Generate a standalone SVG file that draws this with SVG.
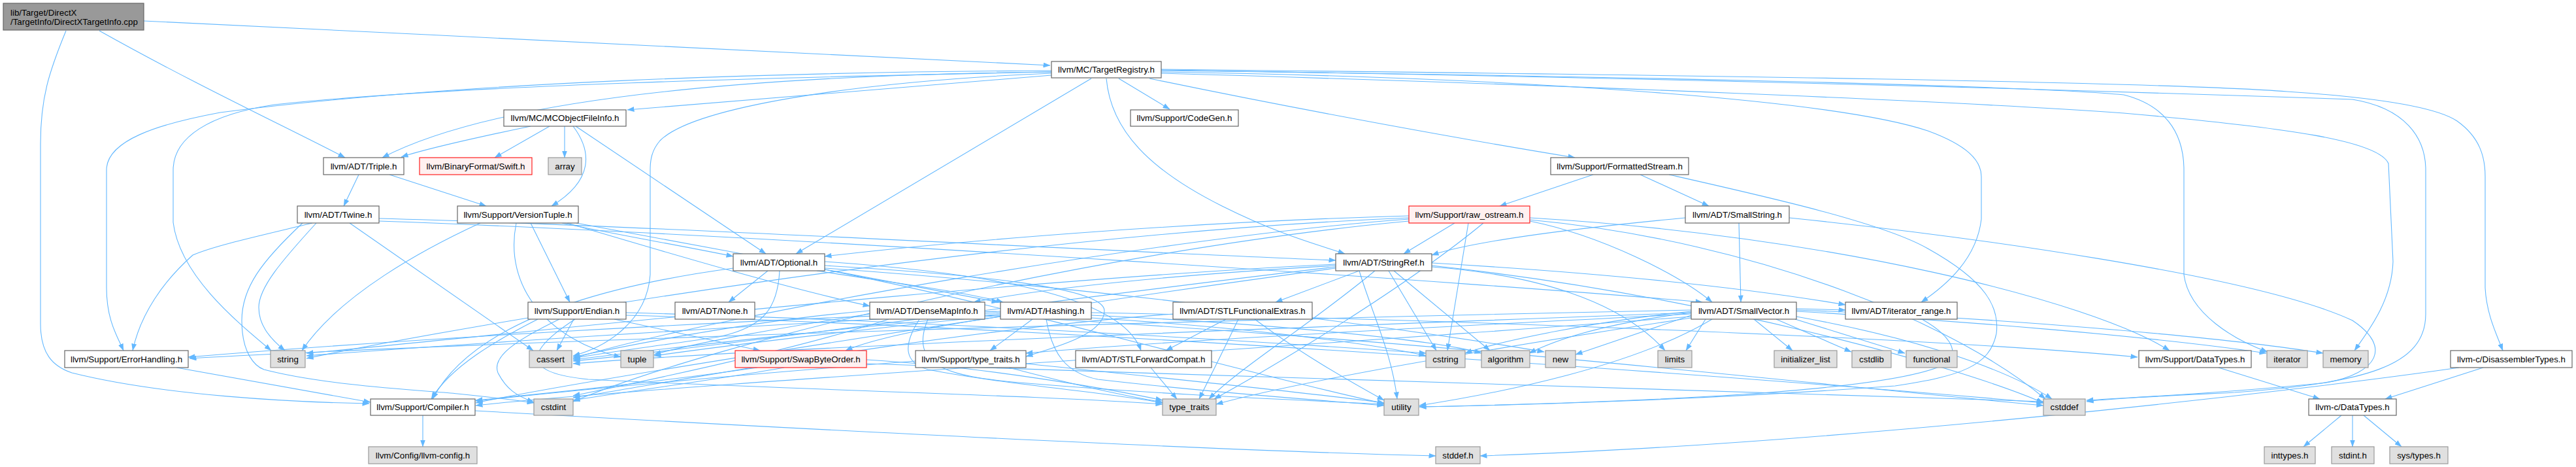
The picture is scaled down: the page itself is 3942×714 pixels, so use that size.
<svg xmlns="http://www.w3.org/2000/svg" width="3942" height="714" viewBox="0 0 3942 714">
<defs>
<marker id="a" markerWidth="11" markerHeight="8" refX="10.5" refY="4" orient="auto" markerUnits="userSpaceOnUse"><path d="M0,0 L11,4 L0,8 z" fill="#63b8ff"/></marker>
<style>
.e{fill:none;stroke:#63b8ff;stroke-width:1.1;marker-end:url(#a)}
.n rect{fill:#ffffff;stroke:#666666;stroke-width:1.2}
.g rect{fill:#e0e0e0;stroke:#999999;stroke-width:1.2}
.r rect{fill:#fff0f0;stroke:#ff2020;stroke-width:1.2}
.rt rect{fill:#999999;stroke:#666666;stroke-width:1.2}
text{font-family:"Liberation Sans",Arial,Helvetica,sans-serif;font-size:13.33px;fill:#000000;text-anchor:middle}
.rt text{text-anchor:start}
</style>
</defs>
<rect width="3942" height="714" fill="#ffffff"/>
<g id="connectors">
<path class="e" d="M220,32 C700,55 1300,85 1607,100"/>
<path class="e" d="M152,47 C300,130 450,200 528,241"/>
<path class="e" d="M101,47 C75,110 62,150 62,220 L62,495 C62,540 80,560 110,570 C250,605 450,615 565,617"/>
<path class="e" d="M1609,115 C1350,135 1100,155 960,168"/>
<path class="e" d="M1712,120 L1790,167"/>
<path class="e" d="M1759,120 C2000,170 2250,215 2410,241"/>
<path class="e" d="M1609,110 C1150,115 760,150 585,241"/>
<path class="e" d="M1609,108 C1200,110 700,125 337,172 C240,190 163,215 163,260 L163,440 C163,490 180,515 189,536"/>
<path class="e" d="M1609,110 C1200,118 700,130 420,160 C320,175 265,210 265,260 L265,340 C275,420 360,490 415,536"/>
<path class="e" d="M1609,112 C1300,125 1060,165 1010,215 C997,230 995,245 995,260 L995,420 C990,490 930,530 877,544"/>
<path class="e" d="M1693,120 C1700,200 1760,260 1870,315 C1960,360 2020,375 2058,388"/>
<path class="e" d="M1670,120 L1218,388"/>
<path class="e" d="M1777,110 C2300,118 2800,150 2950,200 C3010,222 3032,245 3032,270 L3032,335 C3025,395 2980,435 2940,462"/>
<path class="e" d="M1777,108 C2400,115 3100,130 3250,145 C3310,160 3342,200 3342,260 L3342,420 C3350,480 3420,520 3470,538"/>
<path class="e" d="M1777,112 C2400,130 3000,155 3250,173 C3500,195 3640,215 3655,250 L3662,400 C3660,460 3625,505 3603,536"/>
<path class="e" d="M1777,107 C2600,120 3250,140 3600,152 C3680,165 3712,210 3712,260 L3712,480 C3712,560 3620,585 3420,600 C3300,606 3230,609 3193,614"/>
<path class="e" d="M1777,106 C2600,115 3300,125 3500,140 C3650,150 3730,165 3760,185 C3795,210 3803,240 3803,270 L3803,440 C3805,480 3820,510 3830,536"/>
<path class="e" d="M812,193 C740,208 660,225 614,240"/>
<path class="e" d="M841,193 L757,241"/>
<path class="e" d="M864,193 L864,241"/>
<path class="e" d="M877,193 C905,230 910,275 844,315"/>
<path class="e" d="M881,193 L1172,388"/>
<path class="e" d="M549,267 L526,315"/>
<path class="e" d="M596,267 L744,315"/>
<path class="e" d="M478,341 C400,360 330,375 295,390 C250,430 215,480 203,536"/>
<path class="e" d="M484,341 C430,400 396,440 396,470 C396,495 410,515 436,536"/>
<path class="e" d="M463,341 C400,400 370,440 370,490 C370,540 390,560 404,565 C500,590 650,597 700,602 C760,608 790,612 817,616"/>
<path class="e" d="M535,341 L816,536"/>
<path class="e" d="M580,334 C1000,345 1700,385 2044,398"/>
<path class="e" d="M580,338 C1200,360 2300,435 2605,462"/>
<path class="e" d="M812,341 L872,462"/>
<path class="e" d="M860,341 C950,360 1050,377 1122,392"/>
<path class="e" d="M868,341 C1000,380 1200,440 1331,468"/>
<path class="e" d="M882,341 C1100,380 1400,440 1528,462"/>
<path class="e" d="M735,341 C650,380 520,450 462,536"/>
<path class="e" d="M790,341 C770,440 840,520 950,546"/>
<path class="e" d="M1175,414 L1115,462"/>
<path class="e" d="M1250,414 C1350,430 1470,445 1535,462"/>
<path class="e" d="M1262,400 C1550,420 1720,460 1746,536"/>
<path class="e" d="M1122,410 C900,440 720,500 662,610"/>
<path class="e" d="M1262,406 C1500,420 1690,440 1690,475 C1690,510 1620,530 1570,545"/>
<path class="e" d="M1193,414 C1190,470 1170,500 1100,515 C1000,530 930,538 877,548"/>
<path class="e" d="M1262,410 C1700,440 2200,510 2363,538"/>
<path class="e" d="M1262,412 C1600,480 1900,570 2118,617"/>
<path class="e" d="M2044,406 C1800,420 1600,440 1490,462"/>
<path class="e" d="M2080,414 L1952,462"/>
<path class="e" d="M2191,402 C2500,420 2700,445 2824,466"/>
<path class="e" d="M2044,410 C1600,470 900,580 728,616"/>
<path class="e" d="M2133,414 L2280,536"/>
<path class="e" d="M2044,408 C1600,460 1100,530 877,552"/>
<path class="e" d="M2191,406 C2600,450 3000,560 3127,616"/>
<path class="e" d="M2125,414 L2198,536"/>
<path class="e" d="M2191,408 C2350,420 2480,460 2548,536"/>
<path class="e" d="M2044,404 C1500,430 700,520 469,540"/>
<path class="e" d="M2104,414 C2000,500 1900,560 1850,610"/>
<path class="e" d="M2080,414 C2100,480 2130,540 2138,610"/>
<path class="e" d="M2749,472 L2824,474"/>
<path class="e" d="M2684,488 L2743,536"/>
<path class="e" d="M2718,488 L2833,538"/>
<path class="e" d="M2747,488 L2915,540"/>
<path class="e" d="M2749,484 C2950,520 3080,570 3140,610"/>
<path class="e" d="M2749,476 C3000,490 3300,515 3468,540"/>
<path class="e" d="M2749,474 C3050,485 3400,515 3555,540"/>
<path class="e" d="M2610,488 L2580,536"/>
<path class="e" d="M2588,482 L2411,542"/>
<path class="e" d="M2588,478 C2450,495 2380,520 2340,540"/>
<path class="e" d="M2588,476 C2450,490 2300,520 2242,540"/>
<path class="e" d="M2620,488 C2500,560 2300,600 2172,620"/>
<path class="e" d="M2588,486 C2300,530 2000,580 1861,618"/>
<path class="e" d="M2588,480 C2200,500 1800,520 1570,540"/>
<path class="e" d="M2588,474 C1800,490 800,520 290,548"/>
<path class="e" d="M2588,484 C2000,530 1000,590 728,620"/>
<path class="e" d="M2588,478 C2000,500 1200,530 877,556"/>
<path class="e" d="M2226,341 L2148,388"/>
<path class="e" d="M2247,341 L2215,536"/>
<path class="e" d="M2341,338 C2450,360 2570,420 2620,462"/>
<path class="e" d="M2341,333 C2800,360 3200,460 3320,536"/>
<path class="e" d="M2156,335 C1800,360 1100,480 877,548"/>
<path class="e" d="M2341,336 C2700,370 3000,500 3130,610"/>
<path class="e" d="M2156,338 C1700,380 1100,520 877,614"/>
<path class="e" d="M2156,333 C1500,360 700,500 469,548"/>
<path class="e" d="M2270,341 C2150,440 1950,560 1858,610"/>
<path class="e" d="M2156,330 C1800,340 1450,370 1262,392"/>
<path class="e" d="M2438,267 L2295,315"/>
<path class="e" d="M2510,267 L2615,315"/>
<path class="e" d="M2554,267 C2700,300 2880,340 2950,380 C3040,430 3060,470 3055,510 C3045,560 3000,575 2900,590 C2600,612 2300,620 2172,622"/>
<path class="e" d="M2661,341 L2664,462"/>
<path class="e" d="M2579,333 C2400,350 2250,370 2191,390"/>
<path class="e" d="M2738,333 C3000,360 3450,420 3600,490 C3660,530 3640,570 3560,585 C3400,602 3250,608 3193,612"/>
<path class="e" d="M2941,488 C2980,510 3000,535 2980,555 C2900,600 2500,615 2172,622"/>
<path class="e" d="M1331,475 C1150,490 950,530 877,546"/>
<path class="e" d="M1331,480 C1200,500 1060,525 1001,542"/>
<path class="e" d="M1360,488 C1200,540 950,590 877,605"/>
<path class="e" d="M1407,488 C1380,530 1385,555 1420,565 C1550,590 1700,600 1779,616"/>
<path class="e" d="M1420,488 C1390,560 1450,575 1560,585 C1800,605 2000,612 2118,618"/>
<path class="e" d="M1507,482 C2200,520 2800,590 3127,620"/>
<path class="e" d="M1580,488 L1515,536"/>
<path class="e" d="M1601,488 C1610,540 1630,570 1680,580 C1850,600 2000,610 2118,620"/>
<path class="e" d="M1670,478 C2300,490 3000,520 3271,546"/>
<path class="e" d="M1670,482 C1950,495 2200,520 2267,540"/>
<path class="e" d="M1670,486 C1900,500 2100,525 2182,544"/>
<path class="e" d="M1531,484 C1420,500 1330,520 1294,536"/>
<path class="e" d="M1531,476 C1100,490 600,520 288,546"/>
<path class="e" d="M1531,478 C1100,500 650,530 469,544"/>
<path class="e" d="M1531,480 C1300,500 1000,535 877,550"/>
<path class="e" d="M1531,482 C1300,505 1100,530 1001,544"/>
<path class="e" d="M1876,488 L1784,536"/>
<path class="e" d="M1895,488 C1870,540 1850,580 1835,610"/>
<path class="e" d="M1920,488 C1990,540 2060,580 2118,612"/>
<path class="e" d="M1795,480 C1400,510 1000,590 877,608"/>
<path class="e" d="M1761,562 L1801,610"/>
<path class="e" d="M1401,552 C1100,575 850,600 728,613"/>
<path class="e" d="M1544,562 C1650,590 1720,605 1779,615"/>
<path class="e" d="M1570,556 C1800,580 2000,600 2118,616"/>
<path class="e" d="M878,488 L852,536"/>
<path class="e" d="M940,488 L1163,536"/>
<path class="e" d="M856,488 C790,520 752,545 762,570 C775,595 790,605 817,615"/>
<path class="e" d="M823,488 C760,520 690,560 660,610"/>
<path class="e" d="M958,478 C1400,490 1900,520 2182,540"/>
<path class="e" d="M958,482 C1600,500 2600,570 3127,616"/>
<path class="e" d="M880,488 C800,540 800,570 900,580 C1200,595 1600,605 1779,618"/>
<path class="e" d="M1159,562 C1000,585 850,600 728,612"/>
<path class="e" d="M1200,562 C1100,580 950,600 877,612"/>
<path class="e" d="M1326,556 C2000,580 2800,600 3127,614"/>
<path class="e" d="M1326,550 C1500,560 1700,595 1779,612"/>
<path class="e" d="M647,635 L647,683"/>
<path class="e" d="M727,628 C1300,660 1900,690 2197,697"/>
<path class="e" d="M270,562 C400,585 500,603 567,615"/>
<path class="e" d="M3395,562 L3550,610"/>
<path class="e" d="M3800,562 L3650,610"/>
<path class="e" d="M3763,562 C3500,600 2800,680 2265,697"/>
<path class="e" d="M3583,635 L3525,683"/>
<path class="e" d="M3600,635 L3600,683"/>
<path class="e" d="M3617,635 L3675,683"/>
</g>
<g id="root" class="rt"><rect x="5" y="5" width="215" height="41"/><text x="16" y="23.5">lib/Target/DirectX</text><text x="16" y="38">/TargetInfo/DirectXTargetInfo.cpp</text></g>
<g id="TargetRegistry" class="n"><rect x="1609" y="94" width="168" height="25"/><text x="1693" y="111.1">llvm/MC/TargetRegistry.h</text></g>
<g id="MCObjectFileInfo" class="n"><rect x="771" y="168" width="187" height="25"/><text x="864.5" y="185.1">llvm/MC/MCObjectFileInfo.h</text></g>
<g id="CodeGen" class="n"><rect x="1730" y="168" width="165" height="25"/><text x="1812.5" y="185.1">llvm/Support/CodeGen.h</text></g>
<g id="Triple" class="n"><rect x="495" y="241" width="123" height="26"/><text x="556.5" y="258.6">llvm/ADT/Triple.h</text></g>
<g id="Swift" class="r"><rect x="642" y="241" width="172" height="26"/><text x="728" y="258.6">llvm/BinaryFormat/Swift.h</text></g>
<g id="array" class="g"><rect x="839" y="241" width="51" height="26"/><text x="864.5" y="258.6">array</text></g>
<g id="FormattedStream" class="n"><rect x="2373" y="241" width="211" height="26"/><text x="2478.5" y="258.6">llvm/Support/FormattedStream.h</text></g>
<g id="Twine" class="n"><rect x="455" y="315" width="125" height="26"/><text x="517.5" y="332.6">llvm/ADT/Twine.h</text></g>
<g id="VersionTuple" class="n"><rect x="700" y="315" width="185" height="26"/><text x="792.5" y="332.6">llvm/Support/VersionTuple.h</text></g>
<g id="raw_ostream" class="r"><rect x="2156" y="315" width="185" height="26"/><text x="2248.5" y="332.6">llvm/Support/raw_ostream.h</text></g>
<g id="SmallString" class="n"><rect x="2579" y="315" width="159" height="26"/><text x="2658.5" y="332.6">llvm/ADT/SmallString.h</text></g>
<g id="Optional" class="n"><rect x="1122" y="388" width="140" height="26"/><text x="1192" y="405.6">llvm/ADT/Optional.h</text></g>
<g id="StringRef" class="n"><rect x="2044" y="388" width="147" height="26"/><text x="2117.5" y="405.6">llvm/ADT/StringRef.h</text></g>
<g id="Endian" class="n"><rect x="808" y="462" width="150" height="26"/><text x="883" y="479.6">llvm/Support/Endian.h</text></g>
<g id="None" class="n"><rect x="1033" y="462" width="122" height="26"/><text x="1094" y="479.6">llvm/ADT/None.h</text></g>
<g id="DenseMapInfo" class="n"><rect x="1331" y="462" width="176" height="26"/><text x="1419" y="479.6">llvm/ADT/DenseMapInfo.h</text></g>
<g id="Hashing" class="n"><rect x="1531" y="462" width="139" height="26"/><text x="1600.5" y="479.6">llvm/ADT/Hashing.h</text></g>
<g id="STLFunctionalExtras" class="n"><rect x="1795" y="462" width="213" height="26"/><text x="1901.5" y="479.6">llvm/ADT/STLFunctionalExtras.h</text></g>
<g id="SmallVector" class="n"><rect x="2588" y="462" width="161" height="26"/><text x="2668.5" y="479.6">llvm/ADT/SmallVector.h</text></g>
<g id="iterator_range" class="n"><rect x="2824" y="462" width="171" height="26"/><text x="2909.5" y="479.6">llvm/ADT/iterator_range.h</text></g>
<g id="ErrorHandling" class="n"><rect x="99" y="536" width="189" height="26"/><text x="193.5" y="553.6">llvm/Support/ErrorHandling.h</text></g>
<g id="string" class="g"><rect x="414" y="536" width="53" height="26"/><text x="440.5" y="553.6">string</text></g>
<g id="cassert" class="g"><rect x="810" y="536" width="65" height="26"/><text x="842.5" y="553.6">cassert</text></g>
<g id="tuple" class="g"><rect x="950" y="536" width="50" height="26"/><text x="975" y="553.6">tuple</text></g>
<g id="SwapByteOrder" class="r"><rect x="1125" y="536" width="201" height="26"/><text x="1225.5" y="553.6">llvm/Support/SwapByteOrder.h</text></g>
<g id="Support_type_traits" class="n"><rect x="1401" y="536" width="169" height="26"/><text x="1485.5" y="553.6">llvm/Support/type_traits.h</text></g>
<g id="STLForwardCompat" class="n"><rect x="1646" y="536" width="208" height="26"/><text x="1750" y="553.6">llvm/ADT/STLForwardCompat.h</text></g>
<g id="cstring" class="g"><rect x="2182" y="536" width="60" height="26"/><text x="2212" y="553.6">cstring</text></g>
<g id="algorithm" class="g"><rect x="2267" y="536" width="74" height="26"/><text x="2304" y="553.6">algorithm</text></g>
<g id="new" class="g"><rect x="2365" y="536" width="46" height="26"/><text x="2388" y="553.6">new</text></g>
<g id="limits" class="g"><rect x="2537" y="536" width="52" height="26"/><text x="2563" y="553.6">limits</text></g>
<g id="initializer_list" class="g"><rect x="2715" y="536" width="96" height="26"/><text x="2763" y="553.6">initializer_list</text></g>
<g id="cstdlib" class="g"><rect x="2834" y="536" width="60" height="26"/><text x="2864" y="553.6">cstdlib</text></g>
<g id="functional" class="g"><rect x="2917" y="536" width="78" height="26"/><text x="2956" y="553.6">functional</text></g>
<g id="Support_DataTypes" class="n"><rect x="3273" y="536" width="172" height="26"/><text x="3359" y="553.6">llvm/Support/DataTypes.h</text></g>
<g id="iterator" class="g"><rect x="3469" y="536" width="62" height="26"/><text x="3500" y="553.6">iterator</text></g>
<g id="memory" class="g"><rect x="3555" y="536" width="69" height="26"/><text x="3589.5" y="553.6">memory</text></g>
<g id="DisassemblerTypes" class="n"><rect x="3750" y="536" width="186" height="26"/><text x="3843" y="553.6">llvm-c/DisassemblerTypes.h</text></g>
<g id="Compiler" class="n"><rect x="567" y="610" width="160" height="25"/><text x="647" y="627.1">llvm/Support/Compiler.h</text></g>
<g id="cstdint" class="g"><rect x="817" y="610" width="60" height="25"/><text x="847" y="627.1">cstdint</text></g>
<g id="type_traits" class="g"><rect x="1779" y="610" width="82" height="25"/><text x="1820" y="627.1">type_traits</text></g>
<g id="utility" class="g"><rect x="2118" y="610" width="53" height="25"/><text x="2144.5" y="627.1">utility</text></g>
<g id="cstddef" class="g"><rect x="3127" y="610" width="64" height="25"/><text x="3159" y="627.1">cstddef</text></g>
<g id="c_DataTypes" class="n"><rect x="3533" y="610" width="134" height="25"/><text x="3600" y="627.1">llvm-c/DataTypes.h</text></g>
<g id="llvm_config" class="g"><rect x="564" y="683" width="166" height="26"/><text x="647" y="700.6">llvm/Config/llvm-config.h</text></g>
<g id="stddef_h" class="g"><rect x="2197" y="683" width="68" height="26"/><text x="2231" y="700.6">stddef.h</text></g>
<g id="inttypes_h" class="g"><rect x="3465" y="683" width="78" height="26"/><text x="3504" y="700.6">inttypes.h</text></g>
<g id="stdint_h" class="g"><rect x="3568" y="683" width="65" height="26"/><text x="3600.5" y="700.6">stdint.h</text></g>
<g id="sys_types_h" class="g"><rect x="3657" y="683" width="89" height="26"/><text x="3701.5" y="700.6">sys/types.h</text></g>
</svg>
